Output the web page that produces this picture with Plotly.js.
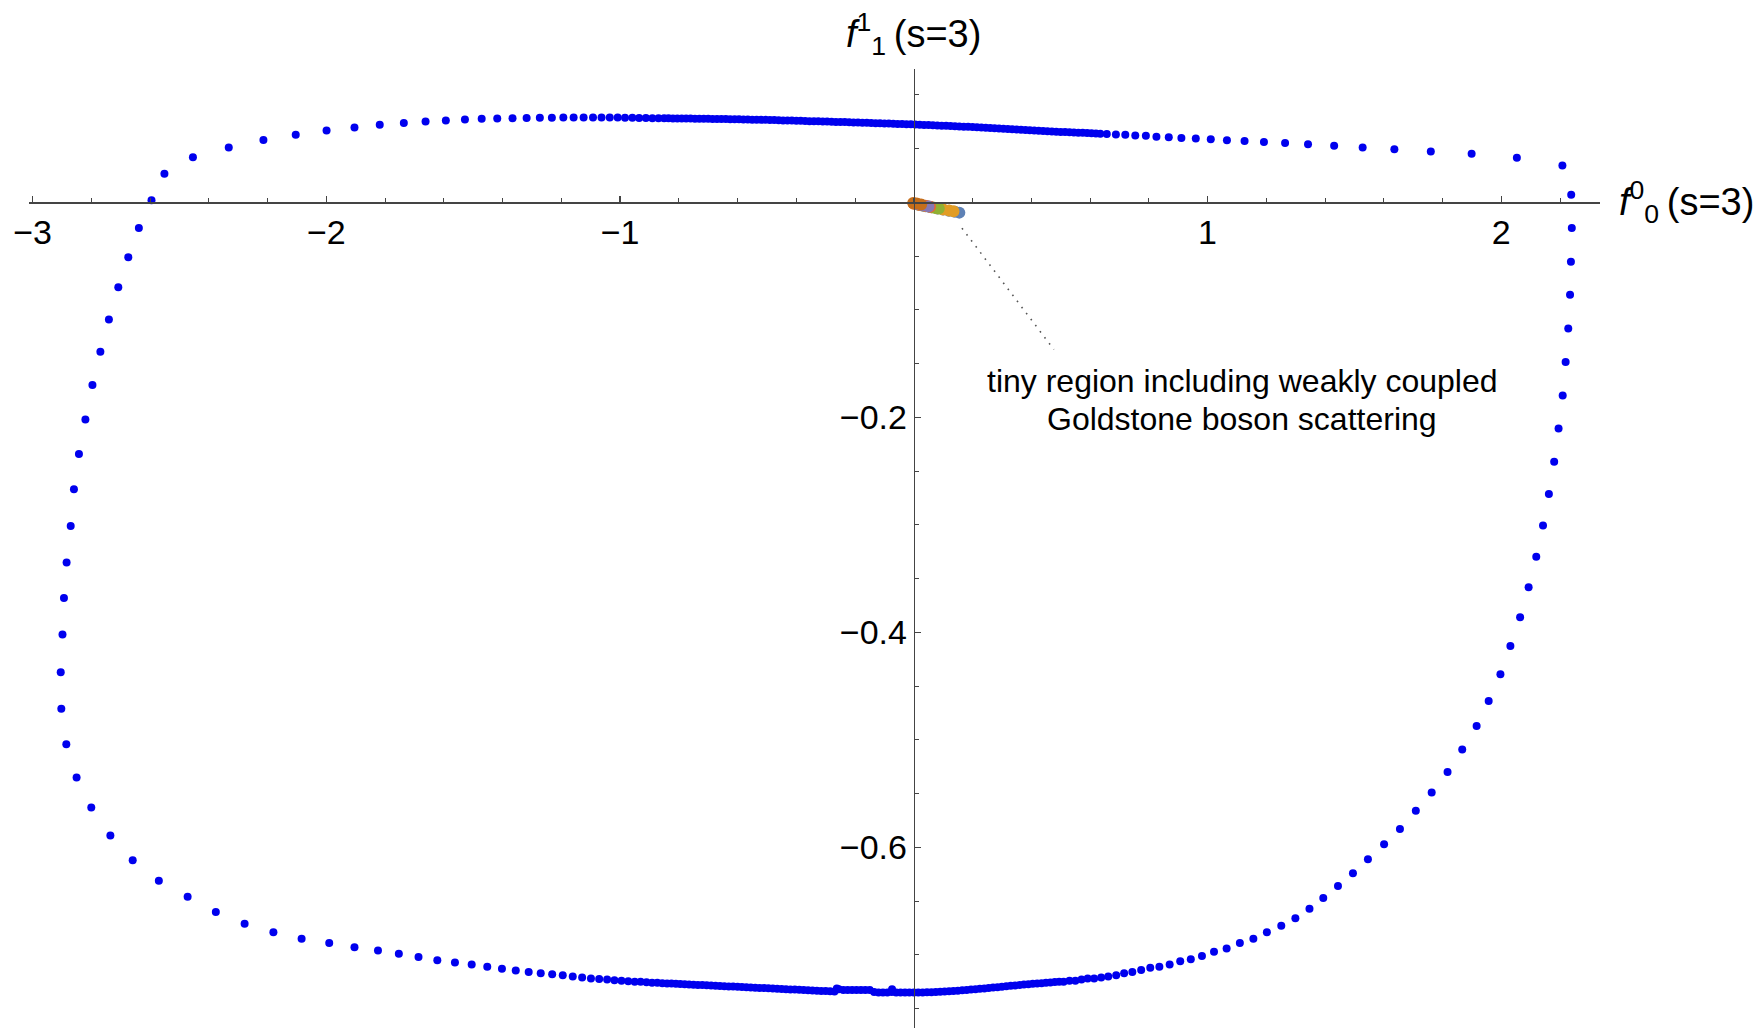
<!DOCTYPE html>
<html><head><meta charset="utf-8">
<script src="https://cdn.plot.ly/plotly-3.0.1.min.js"></script>
<style>html,body{margin:0;padding:0;background:#fff;}#chart{width:1758px;height:1028px;}</style>
</head><body><div id="chart"></div>
<script>
// ---- boundary of the allowed region (blue dots) ----
const leftF00 = [-2.595,-2.638,-2.674,-2.708,-2.740,-2.769,-2.796,-2.820,-2.842,-2.859,-2.870,-2.884,-2.893,-2.898,-2.904,-2.902,-2.885,-2.850,-2.800,-2.735,-2.659,-2.570,-2.472,-2.376,-2.278,-2.180,-2.084,-1.990,-1.904,-1.824,-1.753];
const leftF11 = [0.002,-0.024,-0.051,-0.079,-0.109,-0.139,-0.170,-0.202,-0.234,-0.267,-0.301,-0.335,-0.368,-0.402,-0.437,-0.471,-0.504,-0.535,-0.563,-0.589,-0.612,-0.631,-0.646,-0.660,-0.671,-0.679,-0.685,-0.689,-0.693,-0.696,-0.699];

const topLeftF00 = [-2.551,-2.454,-2.332,-2.214,-2.104,-1.999,-1.904,-1.818,-1.736,-1.662,-1.593,-1.528,-1.471,-1.418,-1.366,-1.318,-1.273,-1.232,-1.193,-1.158,-1.124,-1.092,-1.063,-1.035,-1.008,-0.983,-0.958,-0.935,-0.912,-0.890,-0.869];
const topLeftF11 = [0.0265,0.0420,0.0510,0.0579,0.0628,0.0668,0.0696,0.0721,0.0737,0.0752,0.0761,0.0770,0.0777,0.0780,0.0782,0.0784,0.0786,0.0787,0.0789,0.0789,0.0789,0.0789,0.0789,0.0789,0.0788,0.0787,0.0786,0.0785,0.0784,0.0783,0.0782];

const topBandF00 = [-0.850,-0.835,-0.820,-0.805,-0.790,-0.775,-0.760,-0.745,-0.730,-0.715,-0.700,-0.685,-0.670,-0.655,-0.640,-0.625,-0.610,-0.595,-0.580,-0.565,-0.550,-0.535,-0.520,-0.505,-0.490,-0.475,-0.460,-0.445,-0.430,-0.415,-0.400,-0.385,-0.370,-0.355,-0.340,-0.325,-0.310,-0.295,-0.280,-0.265,-0.250,-0.235,-0.220,-0.205,-0.190,-0.175,-0.160,-0.145,-0.130,-0.115,-0.100,-0.085,-0.070,-0.055,-0.040,-0.025,-0.010,0.005,0.020,0.035,0.050,0.065,0.080,0.095,0.110,0.125,0.140,0.155,0.170,0.185,0.200,0.215,0.230,0.245,0.260,0.275,0.290,0.305,0.320,0.335,0.350,0.365,0.380,0.395,0.410,0.425,0.440,0.455,0.470,0.485,0.500,0.515,0.530,0.545,0.560,0.575,0.590,0.605,0.620];
const topBandF11 = [0.0781,0.0781,0.0780,0.0780,0.0779,0.0779,0.0779,0.0778,0.0778,0.0777,0.0777,0.0776,0.0775,0.0775,0.0774,0.0773,0.0773,0.0772,0.0771,0.0770,0.0769,0.0768,0.0767,0.0767,0.0766,0.0765,0.0763,0.0762,0.0761,0.0760,0.0759,0.0758,0.0757,0.0755,0.0754,0.0753,0.0752,0.0751,0.0750,0.0748,0.0747,0.0746,0.0745,0.0743,0.0742,0.0741,0.0739,0.0738,0.0736,0.0735,0.0733,0.0732,0.0731,0.0729,0.0728,0.0726,0.0725,0.0723,0.0722,0.0720,0.0718,0.0716,0.0714,0.0713,0.0711,0.0709,0.0707,0.0705,0.0704,0.0702,0.0700,0.0698,0.0695,0.0693,0.0691,0.0689,0.0686,0.0684,0.0682,0.0680,0.0677,0.0675,0.0673,0.0671,0.0668,0.0666,0.0664,0.0662,0.0659,0.0657,0.0655,0.0653,0.0651,0.0649,0.0647,0.0646,0.0644,0.0642,0.0640];

const topRightF00 = [0.635,0.657,0.688,0.720,0.754,0.790,0.826,0.868,0.911,0.960,1.011,1.066,1.126,1.192,1.264,1.342,1.431,1.528,1.636,1.760,1.899,2.053,2.208];
const topRightF11 = [0.0637,0.0635,0.0631,0.0628,0.0622,0.0619,0.0610,0.0606,0.0599,0.0594,0.0586,0.0578,0.0570,0.0560,0.0552,0.0541,0.0526,0.0510,0.0494,0.0473,0.0451,0.0414,0.0342];

const rightF00 = [2.238,2.240,2.237,2.234,2.228,2.219,2.209,2.195,2.180,2.162,2.142,2.119,2.093,2.064,2.031,1.997,1.957,1.916];
const rightF11 = [0.0070,-0.0239,-0.0552,-0.0860,-0.1173,-0.1485,-0.1797,-0.2103,-0.2412,-0.2714,-0.3007,-0.3296,-0.3581,-0.3860,-0.4127,-0.4389,-0.4638,-0.4871];

const bottomRightF00 = [1.867,1.817,1.763,1.709,1.655,1.601,1.546,1.495,1.444,1.394,1.347,1.299,1.251,1.202,1.156,1.110,1.065,1.022,0.981,0.943,0.907,0.871,0.836,0.805,0.774,0.744,0.716,0.689,0.662,0.638,0.614,0.592,0.571,0.550,0.530,0.510];
const bottomRightF11 = [-0.509,-0.530,-0.549,-0.566,-0.583,-0.597,-0.611,-0.624,-0.636,-0.647,-0.657,-0.666,-0.673,-0.679,-0.685,-0.689,-0.694,-0.697,-0.701,-0.704,-0.706,-0.709,-0.711,-0.712,-0.714,-0.716,-0.717,-0.719,-0.720,-0.721,-0.722,-0.722,-0.723,-0.724,-0.724,-0.725];

const bottomBandF00 = [0.495,0.480,0.465,0.450,0.435,0.420,0.405,0.390,0.375,0.360,0.345,0.330,0.315,0.300,0.285,0.270,0.255,0.240,0.225,0.210,0.195,0.180,0.165,0.150,0.135,0.120,0.105,0.090,0.075,0.060,0.045,0.030,0.015,0.000,-0.015,-0.030,-0.045,-0.060,-0.074,-0.075,-0.090,-0.105,-0.120,-0.135,-0.150,-0.165,-0.180,-0.195,-0.210,-0.225,-0.240,-0.255,-0.262,-0.270,-0.285,-0.300,-0.315,-0.330,-0.345,-0.360,-0.375,-0.390,-0.405,-0.420,-0.435,-0.450,-0.465,-0.480,-0.495,-0.510,-0.525,-0.540,-0.555,-0.570,-0.585,-0.600,-0.615,-0.630,-0.645,-0.660,-0.675,-0.690,-0.705,-0.720,-0.735,-0.750,-0.765,-0.780,-0.795,-0.810,-0.825];
const bottomBandF11 = [-0.7250,-0.7253,-0.7256,-0.7259,-0.7263,-0.7266,-0.7269,-0.7273,-0.7276,-0.7280,-0.7284,-0.7288,-0.7292,-0.7296,-0.7300,-0.7304,-0.7308,-0.7312,-0.7316,-0.7320,-0.7323,-0.7327,-0.7330,-0.7333,-0.7336,-0.7339,-0.7341,-0.7343,-0.7345,-0.7347,-0.7348,-0.7349,-0.7350,-0.7350,-0.7350,-0.7350,-0.7350,-0.7350,-0.7320,-0.7345,-0.7350,-0.7350,-0.7350,-0.7345,-0.7326,-0.7326,-0.7326,-0.7326,-0.7326,-0.7326,-0.7326,-0.7320,-0.7312,-0.7340,-0.7339,-0.7337,-0.7335,-0.7333,-0.7331,-0.7329,-0.7327,-0.7325,-0.7323,-0.7321,-0.7319,-0.7317,-0.7315,-0.7313,-0.7311,-0.7309,-0.7307,-0.7305,-0.7303,-0.7301,-0.7299,-0.7297,-0.7295,-0.7293,-0.7291,-0.7289,-0.7287,-0.7285,-0.7283,-0.7281,-0.7279,-0.7277,-0.7275,-0.7273,-0.7271,-0.7269,-0.7267];

const bottomLeftF00 = [-0.840,-0.856,-0.873,-0.891,-0.910,-0.930,-0.950,-0.972,-0.995,-1.019,-1.044,-1.071,-1.099,-1.129,-1.161,-1.195,-1.231,-1.270,-1.311,-1.355,-1.402,-1.452,-1.505,-1.562,-1.622,-1.686];
const bottomLeftF11 = [-0.7265,-0.7263,-0.7260,-0.7260,-0.7255,-0.7250,-0.7250,-0.7245,-0.7240,-0.7235,-0.7230,-0.7225,-0.7220,-0.7210,-0.7200,-0.7190,-0.7180,-0.7170,-0.7160,-0.7145,-0.7130,-0.7110,-0.7090,-0.7070,-0.7050,-0.7020];

// ---- tiny region near the origin (weakly coupled models) ----
const regionBlueF00 = [0.02,0.04,0.06,0.08,0.10,0.12,0.14,0.155];
const regionBlueF11 = [-0.0026,-0.0037,-0.0047,-0.0057,-0.0068,-0.0078,-0.0088,-0.0096];
const regionOrangeF00 = [0.000,0.02,0.04,0.06,0.08,0.10,0.12,0.135];
const regionOrangeF11 = [-0.0014,-0.0024,-0.0035,-0.0045,-0.0055,-0.0066,-0.0076,-0.0084];
const regionGreenF00 = [0.01,0.03,0.05,0.07,0.085];
const regionGreenF11 = [-0.0019,-0.0029,-0.0040,-0.0050,-0.0058];
const regionRedF00 = [0.00,0.02,0.04,0.055];
const regionRedF11 = [-0.0012,-0.0022,-0.0033,-0.0041];
const regionPurpleF00 = [0.01,0.03,0.05];
const regionPurpleF11 = [-0.0019,-0.0029,-0.0040];
const regionBrownF00 = [-0.002,0.010,0.025];
const regionBrownF11 = [-0.0006,-0.0012,-0.0020];
const regionColors = ['#5E81B5','#E19C24','#8FB032','#EB6235','#8778B3','#C56E1A'];

// ---- axes: ticks and labels ----
const xTickVals = [-3, -2, -1, 1, 2];
const xTickText = ['\u22123', '\u22122', '\u22121', '1', '2'];
const yTickVals = [-0.6, -0.4, -0.2];
const yTickText = ['\u22120.6', '\u22120.4', '\u22120.2'];

// ---- leader line and labels ----
const leaderF00 = [0.164, 0.477];
const leaderF11 = [-0.024, -0.137];
const noteLines = ['tiny region including weakly coupled', 'Goldstone boson scattering'];
const noteF00 = [1.118, 1.118];
const noteF11 = [-0.1665, -0.2020];
const xTitle = '<i>f</i><sup>0</sup><sub>0</sub>\u2009(s=3)';
const yTitle = '<i>f</i><sup>1</sup><sub>1</sub>\u2009(s=3)';
const xRange = [-3.012, 2.336];
const yRange = [-0.768, 0.124];

const boundaryF00 = [].concat(leftF00, topLeftF00, topBandF00, topRightF00, rightF00, bottomRightF00, bottomBandF00, bottomLeftF00);
const boundaryF11 = [].concat(leftF11, topLeftF11, topBandF11, topRightF11, rightF11, bottomRightF11, bottomBandF11, bottomLeftF11);

const traces = [
  {type:'scatter', mode:'markers', x:boundaryF00, y:boundaryF11,
   marker:{color:'#0000ee', size:8, line:{width:0}}, hoverinfo:'skip'},
  {type:'scatter', mode:'lines', x:leaderF00, y:leaderF11,
   line:{color:'#555', width:1.6, dash:'1.6px,6px'}, hoverinfo:'skip'}
];
const regions = [[regionBlueF00,regionBlueF11],[regionOrangeF00,regionOrangeF11],[regionGreenF00,regionGreenF11],[regionRedF00,regionRedF11],[regionPurpleF00,regionPurpleF11],[regionBrownF00,regionBrownF11]];
regions.forEach((r,i)=>traces.push({type:'scatter', mode:'markers', x:r[0], y:r[1],
  marker:{color:regionColors[i], size:12, line:{width:0}}, hoverinfo:'skip'}));

const axisCol = '#444';
const layout = {
  width:1758, height:1028,
  margin:{l:28.7, r:158, t:69, b:0, pad:0},
  paper_bgcolor:'#fff', plot_bgcolor:'#fff', showlegend:false,
  font:{family:'"Liberation Sans", Arial, sans-serif', color:'#000'},
  xaxis:{range:xRange, anchor:'free', position:(0-yRange[0])/(yRange[1]-yRange[0]),
    showline:true, linecolor:axisCol, linewidth:1.2, zeroline:false, showgrid:false,
    ticks:'inside', ticklen:6, tickwidth:1.2, tickcolor:axisCol,
    tickmode:'array', tickvals:xTickVals, ticktext:xTickText,
    tickfont:{size:34, color:'#000'},
    minor:{tickmode:'linear', ticks:'inside', ticklen:4, tickwidth:1, tickcolor:axisCol, tick0:0, dtick:0.2, showgrid:false}},
  yaxis:{range:yRange, anchor:'free', position:(0-xRange[0])/(xRange[1]-xRange[0]),
    showline:true, linecolor:axisCol, linewidth:1.2, zeroline:false, showgrid:false,
    ticks:'inside', ticklen:6, tickwidth:1.2, tickcolor:axisCol,
    tickmode:'array', tickvals:yTickVals, ticktext:yTickText,
    tickfont:{size:34, color:'#000'},
    minor:{tickmode:'linear', ticks:'inside', ticklen:4, tickwidth:1, tickcolor:axisCol, tick0:0, dtick:0.05, showgrid:false}},
  annotations:[
    {xref:'paper', x:1, xanchor:'left', xshift:17, yref:'y', y:0, yanchor:'middle',
     text:xTitle, showarrow:false, font:{size:38, color:'#000'}},
    {xref:'x', x:0, xanchor:'center', yref:'paper', y:1, yanchor:'bottom', yshift:6,
     text:yTitle, showarrow:false, font:{size:38, color:'#000'}},
    {xref:'x', x:noteF00[0], y:noteF11[0], yref:'y', xanchor:'center', yanchor:'middle',
     text:noteLines[0], showarrow:false, font:{size:32, color:'#000'}},
    {xref:'x', x:noteF00[1], y:noteF11[1], yref:'y', xanchor:'center', yanchor:'middle',
     text:noteLines[1], showarrow:false, font:{size:32, color:'#000'}}
  ]
};
Plotly.newPlot('chart', traces, layout, {staticPlot:true, displayModeBar:false});
</script>
</body></html>
